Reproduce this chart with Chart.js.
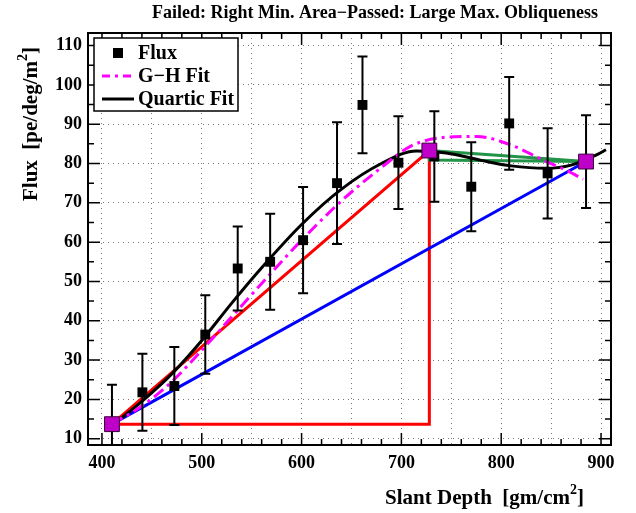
<!DOCTYPE html>
<html>
<head>
<meta charset="utf-8">
<script src="https://cdn.jsdelivr.net/npm/chart.js@4.4.0/dist/chart.umd.min.js"></script>
<style>
    html, body { margin: 0; padding: 0; background: #fff; }
    #wrap { width: 636px; height: 513px; }
</style>
</head>
<body>
<div id="wrap"><canvas id="fluxChart" width="636" height="513"></canvas></div>
<script>
// datos
const fluxDepth = [410, 440.5, 472.5, 503.5, 536, 568.5, 601.5, 635.5, 661, 697, 733, 770, 808, 846.5, 885];
const fluxValue = [13.7, 21.8, 23.4, 36.5, 53.3, 55, 60.5, 75, 94.9, 80.2, 81.8, 74.1, 90.2, 77.5, 80.5];
const fluxErr   = [10, 9.8, 9.9, 10, 10.7, 12.2, 13.5, 15.5, 12.3, 11.8, 11.5, 11.3, 11.8, 11.5, 11.8];

const keyDepth = [410, 728, 885];
const keyFlux  = [13.7, 83.3, 80.5];
const greenBase = 80.9;

const quarticDepth = [410, 440, 470, 500, 530, 560, 600, 640, 680, 715, 745, 780, 810, 845, 870, 897, 905];
const quarticFlux  = [13.3, 19.5, 26.5, 35, 44.5, 53.5, 64.5, 73.5, 80, 83.2, 82.7, 80.8, 79.4, 78.8, 79.6, 82.4, 83.5];

const ghDepth = [410, 440, 470, 500, 530, 560, 600, 640, 680, 710, 745, 775, 810, 845, 865, 882];
const ghFlux  = [13.8, 18.3, 24.5, 32.5, 41, 49.5, 60.5, 70.5, 79, 84.5, 86.7, 86.9, 84.7, 80.5, 78.3, 76];

const xTickLabels = [400, 500, 600, 700, 800, 900];
const yTickLabels = [10, 20, 30, 40, 50, 60, 70, 80, 90, 100, 110];

const serif = '"Liberation Serif", "Times New Roman", serif';

const toPts = (xs, ys) => xs.map((x, i) => ({ x: x, y: ys[i] }));

const redTriangle = [
    { x: keyDepth[0], y: keyFlux[0] },
    { x: keyDepth[1], y: keyFlux[1] },
    { x: keyDepth[1], y: keyFlux[0] },
    { x: keyDepth[0], y: keyFlux[0] }
];
const blueLine = [
    { x: keyDepth[0], y: keyFlux[0] },
    { x: keyDepth[2], y: keyFlux[2] }
];
const greenTriangle = [
    { x: keyDepth[1], y: keyFlux[1] },
    { x: keyDepth[2], y: keyFlux[2] },
    { x: keyDepth[1], y: greenBase },
    { x: keyDepth[1], y: keyFlux[1] }
];

// barras de error de Flux
const errorBars = {
    id: 'errorBars',
    beforeDatasetDraw(chart, args) {
        if (chart.data.datasets[args.index].label !== 'Flux') return;
        const ctx = chart.ctx;
        const xs = chart.scales.x, ys = chart.scales.y;
        ctx.save();
        ctx.beginPath();
        ctx.rect(chart.chartArea.left, chart.chartArea.top, chart.chartArea.right - chart.chartArea.left, chart.chartArea.bottom - chart.chartArea.top);
        ctx.clip();
        ctx.strokeStyle = '#000';
        ctx.lineWidth = 2;
        fluxDepth.forEach((d, i) => {
            const px = xs.getPixelForValue(d);
            const top = ys.getPixelForValue(fluxValue[i] + fluxErr[i]);
            const bot = ys.getPixelForValue(fluxValue[i] - fluxErr[i]);
            ctx.beginPath();
            ctx.moveTo(px, top); ctx.lineTo(px, bot);
            ctx.moveTo(px - 5, top); ctx.lineTo(px + 5, top);
            ctx.moveTo(px - 5, bot); ctx.lineTo(px + 5, bot);
            ctx.stroke();
        });
        ctx.restore();
    }
};

// marco, ticks, titulos y leyenda estilo ROOT
const rootFrame = {
    id: 'rootFrame',
    afterDraw(chart) {
        const ctx = chart.ctx;
        const a = chart.chartArea;
        const xs = chart.scales.x, ys = chart.scales.y;
        ctx.save();

        ctx.strokeStyle = '#000';
        ctx.lineWidth = 1.5;
        ctx.beginPath();
        for (let v = 400; v <= 900; v += 20) {
            const px = xs.getPixelForValue(v);
            const len = v % 100 === 0 ? 12 : 6;
            ctx.moveTo(px, a.bottom); ctx.lineTo(px, a.bottom - len);
            ctx.moveTo(px, a.top); ctx.lineTo(px, a.top + len);
        }
        for (let v = 10; v <= 110; v += 5) {
            const py = ys.getPixelForValue(v);
            const len = v % 10 === 0 ? 12 : 6;
            ctx.moveTo(a.left, py); ctx.lineTo(a.left + len, py);
            ctx.moveTo(a.right, py); ctx.lineTo(a.right - len, py);
        }
        ctx.stroke();

        ctx.lineWidth = 2;
        ctx.strokeRect(a.left, a.top, a.right - a.left, a.bottom - a.top);

        // titulo
        ctx.fillStyle = '#000';
        ctx.font = 'bold 18px ' + serif;
        ctx.textAlign = 'center';
        ctx.textBaseline = 'middle';
        ctx.fillText('Failed: Right Min. Area\u2212Passed: Large Max. Obliqueness', 375, 13);

        // titulo eje x
        ctx.font = 'bold 21px ' + serif;
        ctx.textAlign = 'right';
        ctx.textBaseline = 'alphabetic';
        const xEnd = 584;
        ctx.fillText(']', xEnd, 504);
        const wBr = ctx.measureText(']').width;
        ctx.font = 'bold 14px ' + serif;
        ctx.fillText('2', xEnd - wBr, 494);
        const w2 = ctx.measureText('2').width;
        ctx.font = 'bold 21px ' + serif;
        ctx.fillText('Slant Depth  [gm/cm', xEnd - wBr - w2, 504);

        // titulo eje y
        ctx.save();
        ctx.translate(37, 47);
        ctx.rotate(-Math.PI / 2);
        ctx.textAlign = 'right';
        ctx.fillText(']', 0, 0);
        const wBy = ctx.measureText(']').width;
        ctx.font = 'bold 14px ' + serif;
        ctx.fillText('2', -wBy, -10);
        const w2y = ctx.measureText('2').width;
        ctx.font = 'bold 21px ' + serif;
        ctx.fillText('Flux  [pe/deg/m', -wBy - w2y, 0);
        ctx.restore();

        // leyenda
        ctx.fillStyle = '#fff';
        ctx.fillRect(94, 38, 144, 73);
        ctx.strokeStyle = '#000';
        ctx.lineWidth = 1.5;
        ctx.strokeRect(94, 38, 144, 73);

        ctx.fillStyle = '#000';
        ctx.fillRect(113, 48, 10, 10);

        ctx.strokeStyle = '#ff00ff';
        ctx.lineWidth = 3;
        ctx.setLineDash([8, 5, 3, 5]);
        ctx.beginPath(); ctx.moveTo(102, 76); ctx.lineTo(134, 76); ctx.stroke();
        ctx.setLineDash([]);
        ctx.strokeStyle = '#000';
        ctx.beginPath(); ctx.moveTo(102, 99); ctx.lineTo(134, 99); ctx.stroke();

        ctx.font = 'bold 20px ' + serif;
        ctx.textAlign = 'left';
        ctx.textBaseline = 'middle';
        ctx.fillText('Flux', 138, 54);
        ctx.fillText('G\u2212H Fit', 138, 77);
        ctx.fillText('Quartic Fit', 138, 100);

        ctx.restore();
    }
};

const lineDefaults = { showLine: true, pointRadius: 0, pointHoverRadius: 0, fill: false };

new Chart(document.getElementById('fluxChart'), {
    type: 'scatter',
    data: {
        datasets: [
            {
                label: 'Puntos clave',
                data: toPts(keyDepth, keyFlux),
                pointStyle: 'rect',
                pointRadius: 10.5,
                backgroundColor: '#bf00c8',
                borderColor: '#3a003a',
                borderWidth: 1,
                order: 0
            },
            {
                label: 'Flux',
                data: toPts(fluxDepth, fluxValue),
                pointStyle: 'rect',
                pointRadius: 7,
                backgroundColor: '#000',
                borderColor: '#000',
                borderWidth: 0,
                order: 1
            },
            Object.assign({}, lineDefaults, {
                label: 'G-H Fit',
                data: toPts(ghDepth, ghFlux),
                borderColor: '#ff00ff',
                borderWidth: 3,
                borderDash: [12, 5, 3, 5],
                cubicInterpolationMode: 'monotone',
                order: 2
            }),
            Object.assign({}, lineDefaults, {
                label: 'Quartic Fit',
                data: toPts(quarticDepth, quarticFlux),
                borderColor: '#000',
                borderWidth: 3,
                cubicInterpolationMode: 'monotone',
                order: 3
            }),
            Object.assign({}, lineDefaults, {
                label: 'Verde',
                data: greenTriangle,
                borderColor: '#229447',
                borderWidth: 3,
                order: 4
            }),
            Object.assign({}, lineDefaults, {
                label: 'Azul',
                data: blueLine,
                borderColor: '#0000ff',
                borderWidth: 3,
                order: 5
            }),
            Object.assign({}, lineDefaults, {
                label: 'Rojo',
                data: redTriangle,
                borderColor: '#ff0000',
                borderWidth: 3,
                order: 6
            })
        ]
    },
    options: {
        responsive: false,
        animation: false,
        events: [],
        layout: { padding: { left: 0, top: 33, right: 25, bottom: 0 } },
        plugins: {
            legend: { display: false },
            tooltip: { enabled: false },
            title: { display: false }
        },
        scales: {
            x: {
                type: 'linear',
                min: 386,
                max: 910,
                afterFit: s => { s.height = 68; },
                afterBuildTicks: s => {
                    const t = [];
                    for (let v = 400; v <= 900; v += 50) t.push({ value: v });
                    s.ticks = t;
                },
                ticks: {
                    autoSkip: false,
                    maxRotation: 0,
                    padding: 8,
                    color: '#000',
                    font: { family: serif, size: 18, weight: 'bold' },
                    callback: v => xTickLabels.includes(v) ? String(v) : ''
                },
                grid: { color: '#777', lineWidth: 1, drawTicks: false },
                border: { display: false, dash: [1, 4] }
            },
            y: {
                type: 'linear',
                min: 8.4,
                max: 113.2,
                afterFit: s => { s.width = 88; },
                afterBuildTicks: s => {
                    s.ticks = yTickLabels.map(v => ({ value: v }));
                },
                ticks: {
                    autoSkip: false,
                    padding: 6,
                    color: '#000',
                    font: { family: serif, size: 18, weight: 'bold' },
                    callback: v => String(v)
                },
                grid: { color: '#777', lineWidth: 1, drawTicks: false },
                border: { display: false, dash: [1, 4] }
            }
        }
    },
    plugins: [errorBars, rootFrame]
});
</script>
</body>
</html>
